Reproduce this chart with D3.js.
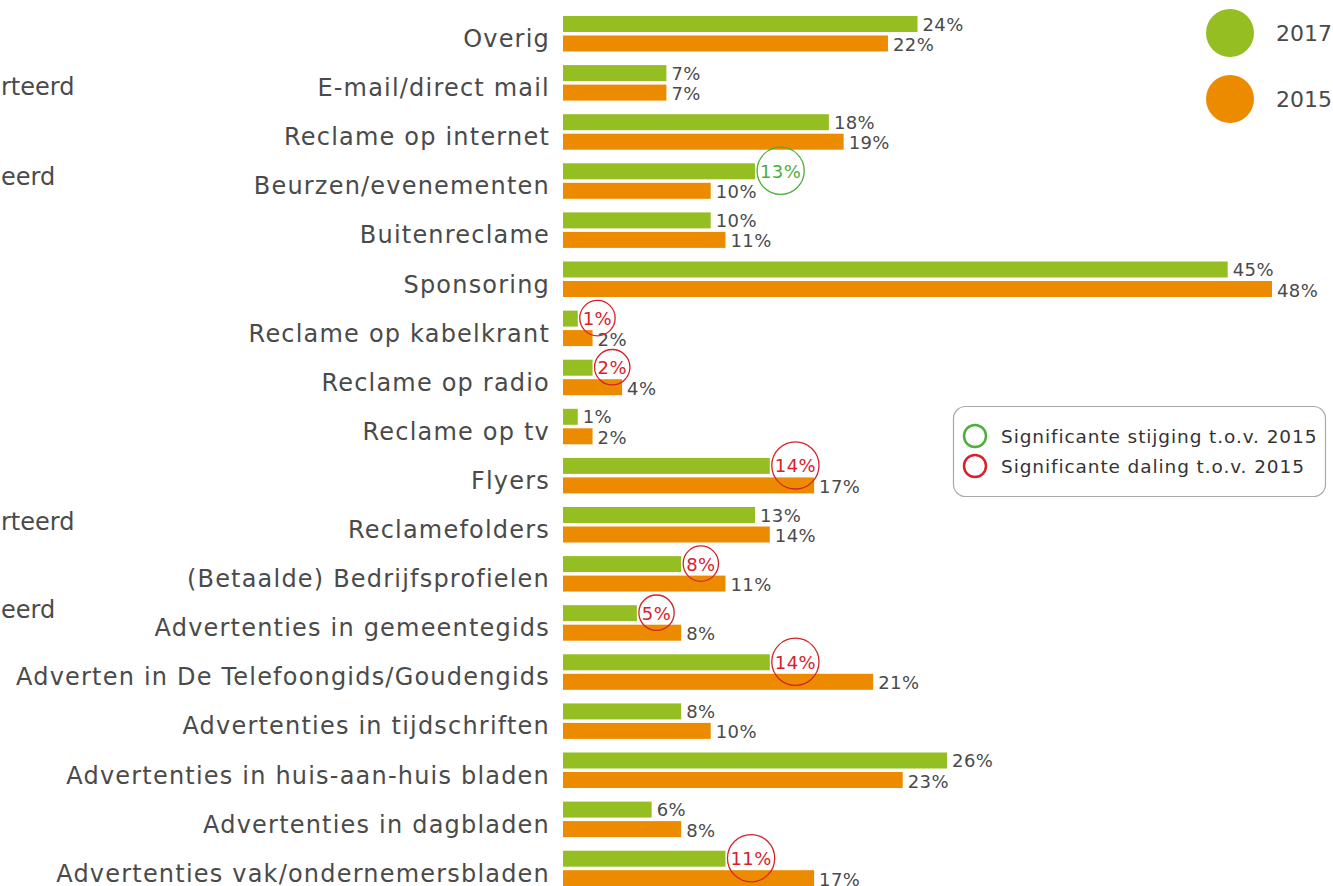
<!DOCTYPE html>
<html>
<head>
<meta charset="utf-8">
<script src="https://cdn.jsdelivr.net/npm/d3@7"></script>
<style>
  body { margin: 0; background: #fff; }
  svg { display: block; font-family: "DejaVu Sans", sans-serif; }
</style>
</head>
<body>
<div class="graphic"></div>
<script>
var width = 1333;
var height = 886;

var categories = [
	"Overig", "E-mail/direct mail", "Reclame op internet", "Beurzen/evenementen",
	"Buitenreclame", "Sponsoring", "Reclame op kabelkrant", "Reclame op radio",
	"Reclame op tv", "Flyers", "Reclamefolders", "(Betaalde) Bedrijfsprofielen",
	"Advertenties in gemeentegids", "Adverten in De Telefoongids/Goudengids",
	"Advertenties in tijdschriften", "Advertenties in huis-aan-huis bladen",
	"Advertenties in dagbladen", "Advertenties vak/ondernemersbladen"
];
var values2017 = [24, 7, 18, 13, 10, 45, 1, 2, 1, 14, 13, 8, 5, 14, 8, 26, 6, 11];
var values2015 = [22, 7, 19, 10, 11, 48, 2, 4, 2, 17, 14, 11, 8, 21, 10, 23, 8, 17];
// significance of 2017 vs 2015: "up", "down" or ""
var signif = ["", "", "", "up", "", "", "down", "down", "", "down", "", "down", "down", "down", "", "", "", "down"];
var seriesNames = ["2017", "2015"];
var legendNotes = ["Significante stijging t.o.v. 2015", "Significante daling t.o.v. 2015"];
// fragments of a neighbouring chart, clipped at the left edge
var sideNotes = ["rteerd", "eerd", "rteerd", "eerd"];

var green = "#95be22";
var orange = "#ec8b00";
var upColor = "#4caf3a";
var downColor = "#d5222b";
var textColor = "#4a4a4a";

var svg = d3.select("div.graphic").append("svg")
	.attr("width", width)
	.attr("height", height);

var x = d3.scaleLinear().domain([0, 48]).range([563, 1272]);
var y = d3.scaleBand().domain(categories).range([6.5, 6.5 + 49.1 * categories.length]);
var barH = 16;

function greenTop(c) { return y(c) + 9.5; }
function orangeTop(c) { return y(c) + 29; }

// side fragments: baselines
var sideY = [95, 185, 530, 618];
svg.append("g").selectAll("text")
	.data(sideNotes)
	.enter()
	.append("text")
	.attr("x", 1)
	.attr("y", function (d, i) { return sideY[i]; })
	.attr("font-size", 24)
	.attr("fill", textColor)
	.text(function (d) { return d; });

// category labels
svg.append("g").selectAll("text")
	.data(categories)
	.enter()
	.append("text")
	.attr("x", 550)
	.attr("y", function (d) { return greenTop(d) + 31; })
	.attr("text-anchor", "end")
	.attr("font-size", 24)
	.attr("letter-spacing", 1.2)
	.attr("fill", textColor)
	.text(function (d) { return d; });

var rows = categories.map(function (c, i) {
	return { cat: c, v17: values2017[i], v15: values2015[i], sig: signif[i] };
});

var bars = svg.append("g");
bars.selectAll("rect.g")
	.data(rows)
	.enter()
	.append("rect")
	.attr("x", x(0))
	.attr("y", function (d) { return greenTop(d.cat); })
	.attr("width", function (d) { return x(d.v17) - x(0); })
	.attr("height", barH)
	.attr("fill", green);
bars.selectAll("rect.o")
	.data(rows)
	.enter()
	.append("rect")
	.attr("x", x(0))
	.attr("y", function (d) { return orangeTop(d.cat); })
	.attr("width", function (d) { return x(d.v15) - x(0); })
	.attr("height", barH)
	.attr("fill", orange);

// value labels
var labels = svg.append("g").attr("font-size", 18).attr("letter-spacing", 0.4);
labels.selectAll("text.o")
	.data(rows)
	.enter()
	.append("text")
	.attr("x", function (d) { return x(d.v15) + 5; })
	.attr("y", function (d) { return orangeTop(d.cat) + 15.5; })
	.attr("fill", textColor)
	.text(function (d) { return d.v15 + "%"; });

labels.selectAll("text.g")
	.data(rows)
	.enter()
	.append("text")
	.attr("x", function (d) { return x(d.v17) + 5; })
	.attr("y", function (d) { return greenTop(d.cat) + 14.5; })
	.attr("fill", function (d) {
		return d.sig == "up" ? upColor : d.sig == "down" ? downColor : textColor;
	})
	.text(function (d) { return d.v17 + "%"; })
	.each(function (d) {
		if (!d.sig) return;
		var w = this.getComputedTextLength();
		labels.append("circle")
			.attr("cx", x(d.v17) + 5 + w / 2)
			.attr("cy", greenTop(d.cat) + 7.5)
			.attr("r", w / 2 + 3)
			.attr("fill", "none")
			.attr("stroke", d.sig == "up" ? upColor : downColor)
			.attr("stroke-width", 1.3);
	});

// series legend
var legend = svg.append("g");
legend.selectAll("circle")
	.data(seriesNames)
	.enter()
	.append("circle")
	.attr("cx", 1230)
	.attr("cy", function (d, i) { return 33 + i * 66; })
	.attr("r", 24)
	.attr("fill", function (d, i) { return i == 0 ? green : orange; });
legend.selectAll("text")
	.data(seriesNames)
	.enter()
	.append("text")
	.attr("x", 1276)
	.attr("y", function (d, i) { return 41 + i * 66; })
	.attr("font-size", 22)
	.attr("fill", textColor)
	.text(function (d) { return d; });

// significance legend
var sig = svg.append("g");
sig.append("rect")
	.attr("x", 953.5).attr("y", 406.5)
	.attr("width", 372).attr("height", 90)
	.attr("rx", 12)
	.attr("fill", "#fff")
	.attr("stroke", "#aaa")
	.attr("stroke-width", 1.2);
sig.selectAll("circle")
	.data(legendNotes)
	.enter()
	.append("circle")
	.attr("cx", 975)
	.attr("cy", function (d, i) { return 436 + i * 30; })
	.attr("r", 11)
	.attr("fill", "none")
	.attr("stroke", function (d, i) { return i == 0 ? upColor : downColor; })
	.attr("stroke-width", 2.5);
sig.selectAll("text")
	.data(legendNotes)
	.enter()
	.append("text")
	.attr("x", 1001)
	.attr("y", function (d, i) { return 443 + i * 30; })
	.attr("font-size", 18.5)
	.attr("letter-spacing", 0.9)
	.attr("fill", "#333")
	.text(function (d) { return d; });
</script>
</body>
</html>
